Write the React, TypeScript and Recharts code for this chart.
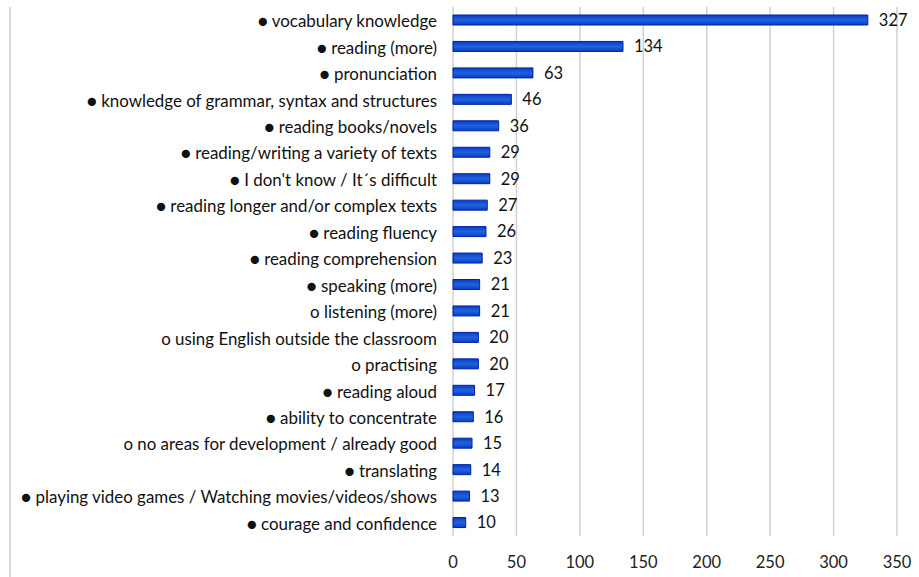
import React from "react";
import { BarChart, Bar, XAxis, YAxis, CartesianGrid, LabelList } from "recharts";

const categories = [
  "● vocabulary knowledge",
  "● reading (more)",
  "● pronunciation",
  "● knowledge of grammar, syntax and structures",
  "● reading books/novels",
  "● reading/writing a variety of texts",
  "● I don't know / It´s difficult",
  "● reading longer and/or complex texts",
  "● reading fluency",
  "● reading comprehension",
  "● speaking (more)",
  "o listening (more)",
  "o using English outside the classroom",
  "o practising",
  "● reading aloud",
  "● ability to concentrate",
  "o no areas for development / already good",
  "● translating",
  "● playing video games / Watching movies/videos/shows",
  "● courage and confidence",
];
const values = [327, 134, 63, 46, 36, 29, 29, 27, 26, 23, 21, 21, 20, 20, 17, 16, 15, 14, 13, 10];
const xTicks = [0, 50, 100, 150, 200, 250, 300, 350];

const data = categories.map((c, i) => ({ name: c, value: values[i] }));

const FONT = "Lato, 'Open Sans', sans-serif";

export default function App() {
  return (
    <div style={{ position: "absolute", left: 0, top: 0, width: 919, height: 577, background: "#fff" }}>
      <div style={{ position: "absolute", left: 9, top: 7, width: 2, height: 570, background: "#d9d9d9" }} />
      <BarChart
        width={919}
        height={577}
        data={data}
        layout="vertical"
        margin={{ top: 7, right: 22, bottom: 0, left: 0 }}
        barSize={10}
      >
        <defs>
          <linearGradient id="barGrad" x1="0" y1="0" x2="0" y2="1">
            <stop offset="0%" stopColor="#0a3cc8" />
            <stop offset="50%" stopColor="#1f63dc" />
            <stop offset="100%" stopColor="#0a3cc8" />
          </linearGradient>
        </defs>
        <CartesianGrid horizontal={false} vertical={true} stroke="#d0d0d0" strokeWidth={1.5} />
        <XAxis
          type="number"
          domain={[0, 350]}
          ticks={xTicks}
          axisLine={false}
          tickLine={false}
          height={41}
          tickMargin={14}
          tick={{ fill: "#222", fontSize: 16.5, fontFamily: FONT }}
        />
        <YAxis
          type="category"
          dataKey="name"
          width={453}
          axisLine={false}
          tickLine={false}
          tickMargin={10}
          interval={0}
          tick={{ fill: "#111", fontSize: 16.9, fontFamily: FONT, dy: 1 }}
        />
        <Bar dataKey="value" fill="url(#barGrad)" stroke="#0020a8" strokeWidth={1} isAnimationActive={false}>
          <LabelList dataKey="value" position="right" offset={11} fill="#111" fontSize={16.5} fontFamily={FONT} />
        </Bar>
      </BarChart>
    </div>
  );
}
